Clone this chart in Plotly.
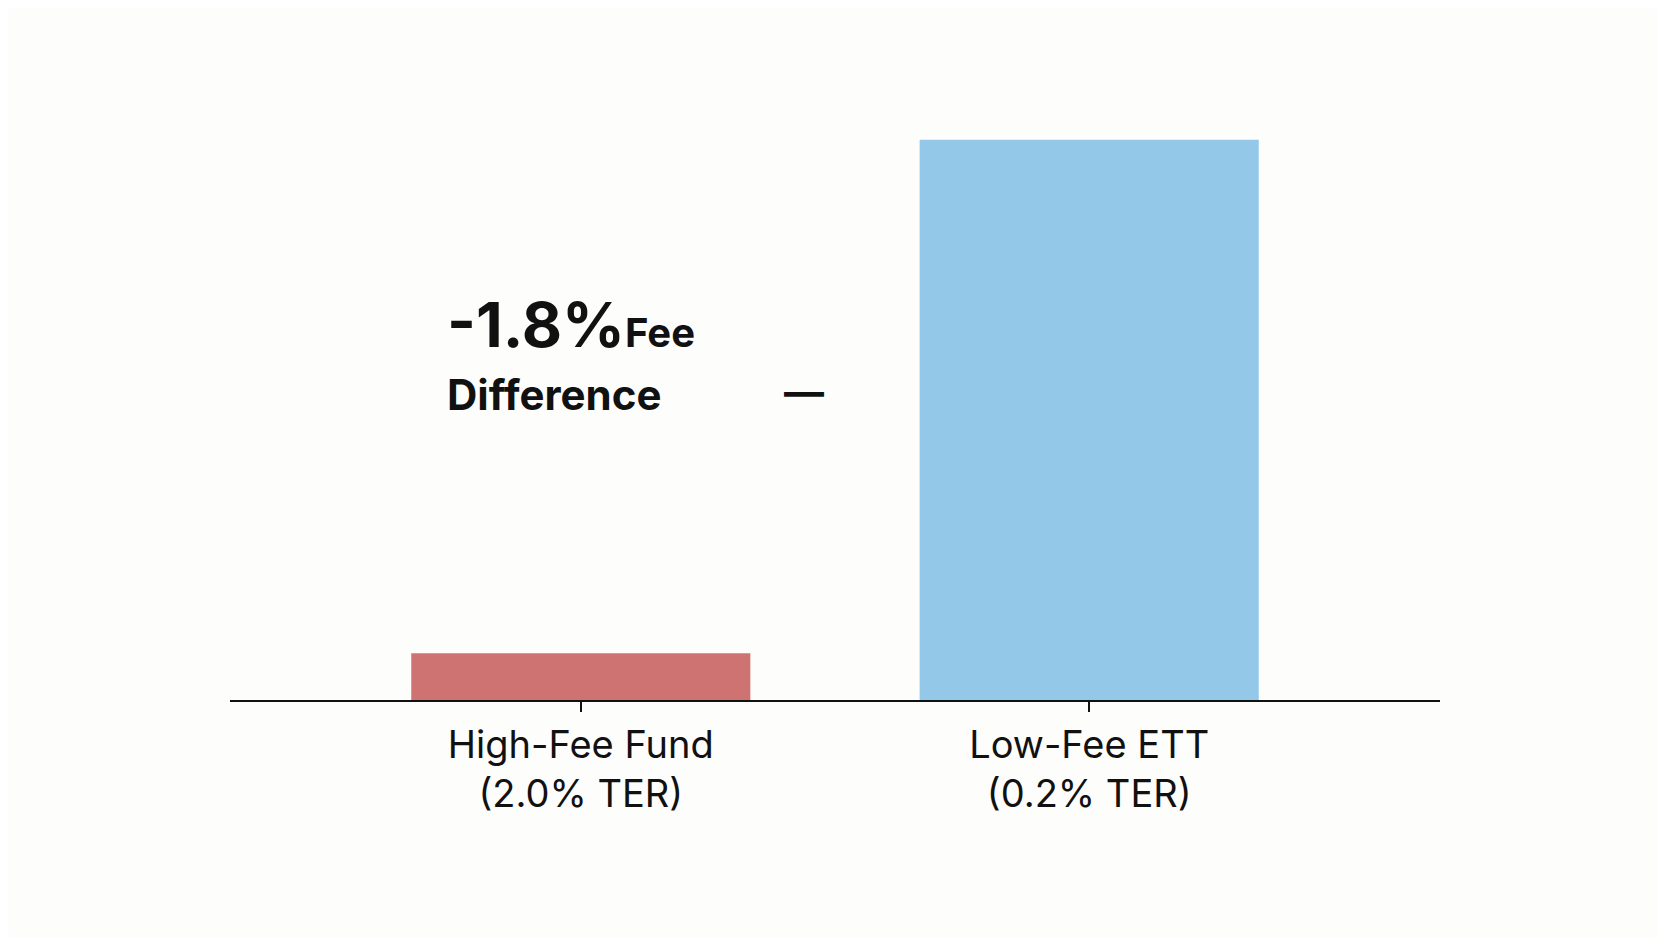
import plotly.graph_objects as go

categories = ["High-Fee Fund<br>(2.0% TER)", "Low-Fee ETT<br>(0.2% TER)"]
values = [1.0, 12.0]
colors = ["#cf7272", "#93c8e8"]
diff_label = "-1.8%"

fig = go.Figure(go.Bar(x=[0, 1], y=values, width=0.667, marker=dict(color=colors, line=dict(width=0))))

fig.add_annotation(xref="paper", yref="paper", x=0.178, y=0.56, xanchor="left", yanchor="bottom",
                   text="<b><span style='font-size:62px'>" + diff_label + "</span><span style='font-size:40px'>Fee</span></b>",
                   showarrow=False, font=dict(family="Inter", color="#111"))
fig.add_annotation(xref="paper", yref="paper", x=0.178, y=0.51, xanchor="left", yanchor="middle",
                   text="<b>Difference</b>", showarrow=False, font=dict(family="Inter", size=42, color="#111"))
fig.add_annotation(xref="paper", yref="paper", x=0.474, y=0.515, xanchor="center", yanchor="middle",
                   text="<b>—</b>", showarrow=False, font=dict(family="Inter", size=40, color="#111"))

fig.update_xaxes(range=[-0.69, 1.69], tickvals=[0, 1], ticktext=categories, showline=True, linecolor="#111",
                 linewidth=2, ticks="outside", ticklen=10, tickcolor="#111", tickwidth=1.5,
                 tickfont=dict(family="Inter", size=38, color="#111"), showgrid=False, zeroline=False)
fig.update_yaxes(range=[0, 12.85], visible=False, showgrid=False)
fig.update_layout(width=1666, height=937, margin=dict(l=222, r=234, t=92, b=245),
                  paper_bgcolor="#fdfdfc", plot_bgcolor="#fdfdfc", showlegend=False)
fig.write_html("out.html")
